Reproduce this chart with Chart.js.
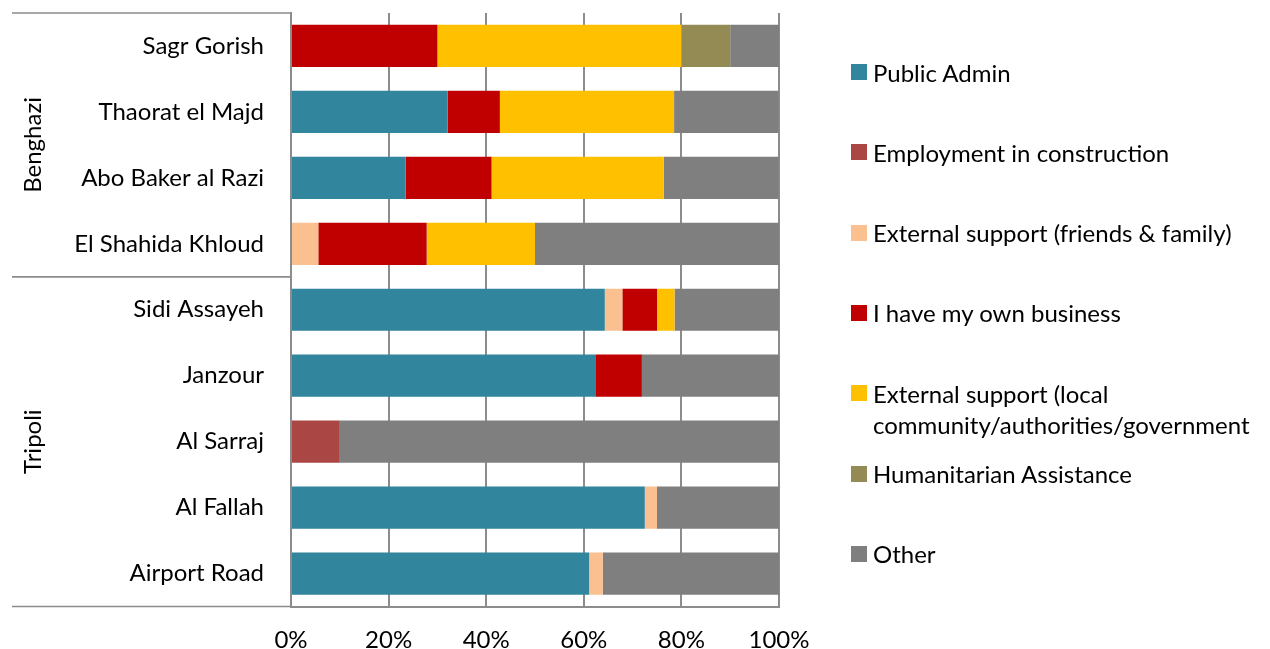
<!DOCTYPE html>
<html>
<head>
<meta charset="utf-8">
<title>Main source of income by site</title>
<script src="https://cdn.jsdelivr.net/npm/chart.js@4"></script>
<style>
  html, body { margin: 0; padding: 0; background: #fff; }
  #wrap { position: relative; width: 1270px; height: 649px; overflow: hidden; }
  #chart { position: absolute; left: 0; top: 0; }
  #legend {
    position: absolute; left: 851px; top: 0;
    font-family: Lato, "Open Sans", sans-serif; font-size: 24px; color: #000;
  }
  #legend .item { position: absolute; left: 0; white-space: pre; }
  #legend .swatch { position: absolute; left: 0; width: 16px; height: 16px; }
  #legend .label { position: absolute; left: 22px; line-height: 31px; }
</style>
</head>
<body>
<div id="wrap">
  <canvas id="chart" width="1270" height="649"></canvas>
  <div id="legend"></div>
</div>
<script>
"use strict";

// ── Data ──────────────────────────────────────────────────────────────────
const SITES = [
  "Sagr Gorish", "Thaorat el Majd", "Abo Baker al Razi", "El Shahida Khloud",
  "Sidi Assayeh", "Janzour", "Al Sarraj", "Al Fallah", "Airport Road",
];
const REGION_NAMES = ["Benghazi", "Tripoli"];
const REGION_SIZES = [4, 5];

const PUBLIC_ADMIN      = [0, 32.1, 23.5, 0, 64.3, 62.5, 0, 72.5, 61.1];
const CONSTRUCTION      = [0, 0, 0, 0, 0, 0, 10, 0, 0];
const FRIENDS_FAMILY    = [0, 0, 0, 5.6, 3.6, 0, 0, 2.5, 2.8];
const OWN_BUSINESS      = [30, 10.7, 17.6, 22.2, 7.1, 9.4, 0, 0, 0];
const COMMUNITY_SUPPORT = [50, 35.7, 35.3, 22.2, 3.6, 0, 0, 0, 0];
const HUMANITARIAN      = [10, 0, 0, 0, 0, 0, 0, 0, 0];
const OTHER             = [10, 21.4, 23.5, 50, 21.4, 28.1, 90, 25, 36.1];

const SERIES_LABELS = [
  "Public Admin",
  "Employment in construction",
  "External support (friends & family)",
  "I have my own business",
  "External support (local\ncommunity/authorities/government",
  "Humanitarian Assistance",
  "Other",
];
const SERIES_VALUES = [
  PUBLIC_ADMIN, CONSTRUCTION, FRIENDS_FAMILY, OWN_BUSINESS,
  COMMUNITY_SUPPORT, HUMANITARIAN, OTHER,
];
const SERIES_COLORS = [
  "#31859C", "#AA4644", "#FAC090", "#C00000", "#FFC000", "#948A54", "#7F7F7F",
];

const X_TICKS = [0, 20, 40, 60, 80, 100];

// ── Styling ───────────────────────────────────────────────────────────────
const FONT = "Lato, 'Open Sans', sans-serif";
const LINE = "#8c8c8c";

Chart.defaults.font.family = FONT;
Chart.defaults.font.size = 24;
Chart.defaults.color = "#000";

// Region brackets down the left margin: separators and rotated names
const regionPlugin = {
  id: "regions",
  afterDraw(chart) {
    const { ctx, chartArea } = chart;
    const y = chart.scales.y;
    const half = (y.getPixelForValue(1) - y.getPixelForValue(0)) / 2;
    ctx.save();
    ctx.strokeStyle = LINE;
    ctx.lineWidth = 1.5;
    ctx.fillStyle = "#000";
    ctx.font = `24px ${FONT}`;
    ctx.textAlign = "center";
    ctx.textBaseline = "middle";
    let start = 0;
    REGION_SIZES.forEach((n, r) => {
      const top = y.getPixelForValue(start) - half;
      const bottom = y.getPixelForValue(start + n - 1) + half;
      ctx.beginPath();
      ctx.moveTo(12, top);
      ctx.lineTo(chartArea.left, top);
      ctx.moveTo(12, bottom);
      ctx.lineTo(chartArea.left, bottom);
      ctx.stroke();
      ctx.save();
      ctx.translate(33, (top + bottom) / 2);
      ctx.rotate(-Math.PI / 2);
      ctx.fillText(REGION_NAMES[r], 0, 0);
      ctx.restore();
      start += n;
    });
    ctx.restore();
  },
};

new Chart(document.getElementById("chart"), {
  type: "bar",
  data: {
    labels: SITES,
    datasets: SERIES_LABELS.map((label, i) => ({
      label,
      data: SERIES_VALUES[i],
      backgroundColor: SERIES_COLORS[i],
      borderWidth: 0,
      barPercentage: 0.64,
      categoryPercentage: 1,
    })),
  },
  options: {
    indexAxis: "y",
    responsive: false,
    animation: false,
    layout: { padding: { top: 13, right: 491, left: 0, bottom: 0 } },
    plugins: {
      legend: { display: false },
      tooltip: { enabled: false },
    },
    scales: {
      x: {
        stacked: true,
        min: 0,
        max: 100,
        afterBuildTicks: s => { s.ticks = X_TICKS.map(v => ({ value: v })); },
        afterFit: s => { s.height = 42.5; },
        ticks: { callback: v => v + "%", padding: 19, maxRotation: 0 },
        grid: { color: LINE, lineWidth: 2, drawTicks: false },
        border: { color: LINE, width: 2 },
      },
      y: {
        stacked: true,
        afterFit: s => {
          s.width = 291;
          s.paddingTop = 0;
          s.paddingBottom = 0;
        },
        ticks: { padding: 27 },
        grid: { display: false, drawTicks: false },
        border: { color: LINE, width: 2 },
      },
    },
  },
  plugins: [regionPlugin],
});

// ── Legend ────────────────────────────────────────────────────────────────
const legend = document.getElementById("legend");
SERIES_LABELS.forEach((label, i) => {
  const cy = 72 + i * 80.3;
  const item = document.createElement("div");
  item.className = "item";
  item.style.top = cy + "px";
  item.innerHTML =
    `<div class="swatch" style="top:-8px;background:${SERIES_COLORS[i]}"></div>` +
    `<div class="label" style="top:-15.5px"></div>`;
  item.querySelector(".label").textContent = label;
  legend.appendChild(item);
});
</script>
</body>
</html>
